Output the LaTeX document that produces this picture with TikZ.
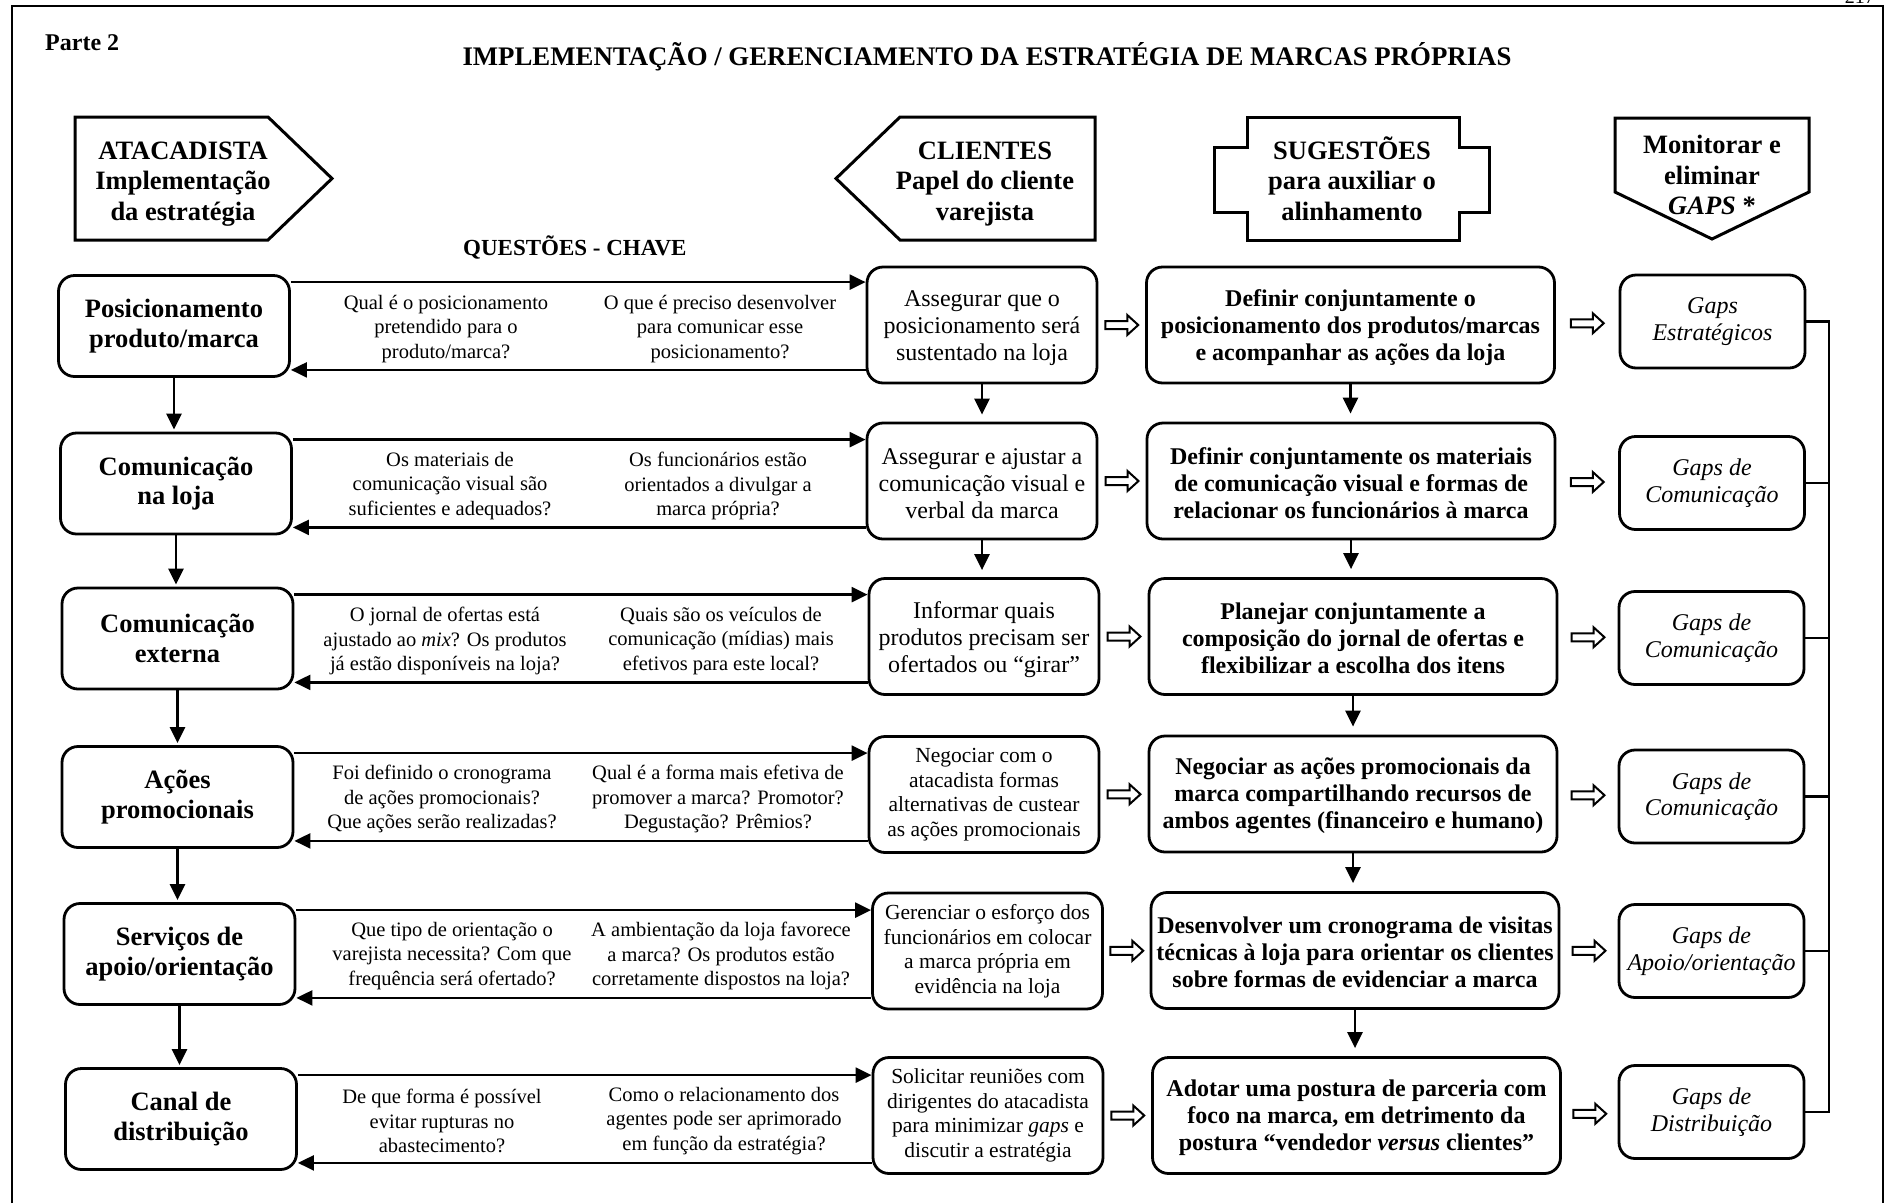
\documentclass[tikz,border=0pt]{standalone}
\usepackage{fontspec}
\setmainfont{Liberation Serif}
\usetikzlibrary{arrows.meta,calc}

\tikzset{
  frameline/.style={line width=2.5pt},
  banner/.style={line width=3pt, line join=miter},
  headtext/.style={align=center, inner sep=0pt, font=\fontsize{26.5}{30.5}\selectfont\bfseries},
  card/.style={draw, line width=2.8pt, rounded corners=16pt, align=center, inner sep=0pt},
  areabox/.style={card, minimum width=231pt, minimum height=101pt, font=\fontsize{26.5}{29.5}\selectfont\bfseries},
  rolebox/.style={card, minimum width=230pt, minimum height=116pt, font=\fontsize{24}{27}\selectfont},
  rolesmall/.style={rolebox, font=\fontsize{21.5}{24.5}\selectfont},
  roletext/.style={align=center, inner sep=0pt, font=\fontsize{24}{27}\selectfont},
  actbox/.style={card, minimum width=408pt, minimum height=116pt},
  acttext/.style={align=center, inner sep=0pt, font=\fontsize{24}{27}\selectfont\bfseries},
  gapbox/.style={card, minimum width=185pt, minimum height=93pt, font=\fontsize{24}{26.5}\selectfont\itshape},
  question/.style={align=center, inner sep=0pt, font=\fontsize{20.5}{24.5}\selectfont},
  flow/.style={line width=2.4pt, -{Triangle[length=16pt, width=15pt]}},
  busline/.style={line width=2.2pt},
  pics/hollowarrow/.style={code={
    \draw[line width=2pt, line join=miter]
      (-16.5,-4) -- (5.5,-4) -- (5.5,-10) -- (16.5,0) -- (5.5,10) -- (5.5,4) -- (-16.5,4) -- cycle;}},
}

\begin{document}
\begin{tikzpicture}[x=1pt, y=-1pt]
\useasboundingbox (0,0) rectangle (1890,1203);

% page frame and page number
\draw[frameline] (12,1203) -- (12,6) -- (1883,6) -- (1883,1203);
\node[anchor=base east, inner sep=0pt, font=\fontsize{20}{24}\selectfont] (pageno) at (1875,3) {217};

% titles
\node[anchor=base west, inner sep=0pt, font=\fontsize{24}{28}\selectfont\bfseries] (parte) at (45,50) {Parte 2};
\node[anchor=base, inner sep=0pt, font=\fontsize{26.8}{30}\selectfont\bfseries] (title) at (987,65)
  {IMPLEMENTAÇÃO / GERENCIAMENTO DA ESTRATÉGIA DE MARCAS PRÓPRIAS};
\node[anchor=base west, inner sep=0pt, font=\fontsize{23}{27}\selectfont\bfseries] (qchave) at (463,255) {QUESTÕES - CHAVE};

% column banners
\draw[banner] (75,117) -- (268,117) -- (332,178.5) -- (268,240) -- (75,240) -- cycle;
\node[headtext] (hAtac) at (183,184) {ATACADISTA\\Implementação\\da estratégia};

\draw[banner] (836,178.5) -- (900,117) -- (1095,117) -- (1095,240) -- (900,240) -- cycle;
\node[headtext] (hCli) at (985,184) {CLIENTES\\Papel do cliente\\varejista};

\draw[banner] (1247,117) -- (1459,117) -- (1459,147) -- (1489,147) -- (1489,212) -- (1459,212)
  -- (1459,240) -- (1247,240) -- (1247,212) -- (1214,212) -- (1214,147) -- (1247,147) -- cycle;
\node[headtext] (hSug) at (1352,178.5) {SUGESTÕES\\para auxiliar o\\alinhamento};

\draw[banner] (1615,118) -- (1809,118) -- (1809,192) -- (1712,239) -- (1615,192) -- cycle;
\node[headtext] (hMon) at (1712,175) {Monitorar e\\eliminar\\\textit{GAPS} *};

% areas of the wholesaler
\node[areabox] (L1) at (174,326)   {Posicionamento\\produto/marca};
\node[areabox] (L2) at (176,483.5) {Comunicação\\na loja};
\node[areabox] (L3) at (177.5,638.5) {Comunicação\\externa};
\node[areabox] (L4) at (177.5,797) {Ações\\promocionais};
\node[areabox] (L5) at (179.5,954) {Serviços de\\apoio/orientação};
\node[areabox] (L6) at (181,1119)  {Canal de\\distribuição};

% role of the retail client
\node[rolebox] (C1) at (982,325)   {};
\node[rolebox] (C2) at (982,481)   {};
\node[rolebox] (C3) at (984,636.5) {};
\node[roletext] (C1t) at ([yshift=-3pt]C1.center) {Assegurar que o\\posicionamento será\\sustentado na loja};
\node[roletext] (C2t) at ([yshift=-3pt]C2.center) {Assegurar e ajustar a\\comunicação visual e\\verbal da marca};
\node[roletext] (C3t) at ([yshift=-3pt]C3.center) {Informar quais\\produtos precisam ser\\ofertados ou “girar”};
\node[rolesmall] (C4) at (984,794.5) {Negociar com o\\atacadista formas\\alternativas de custear\\as ações promocionais};
\node[rolesmall] (C5) at (987.5,951) {Gerenciar o esforço dos\\funcionários em colocar\\a marca própria em\\evidência na loja};
\node[rolesmall] (C6) at (988,1115.5) {Solicitar reuniões com\\dirigentes do atacadista\\para minimizar \textit{gaps} e\\discutir a estratégia};

% suggestions
\node[actbox] (S1) at (1350.5,325)  {};
\node[actbox] (S2) at (1351,481)    {};
\node[actbox] (S3) at (1353,636.5)  {};
\node[actbox] (S4) at (1353,794)    {};
\node[actbox] (S5) at (1355,950.5)  {};
\node[actbox] (S6) at (1356.5,1115.5) {};
\node[acttext] (S1t) at ([yshift=-3pt]S1.center) {Definir conjuntamente o\\posicionamento dos produtos/marcas\\e acompanhar as ações da loja};
\node[acttext] (S2t) at ([yshift=-2pt]S2.center) {Definir conjuntamente os materiais\\de comunicação visual e formas de\\relacionar os funcionários à marca};
\node[acttext] (S3t) at ([yshift=-2pt]S3.center) {Planejar conjuntamente a\\composição do jornal de ofertas e\\flexibilizar a escolha dos itens};
\node[acttext] (S4t) at ([yshift=-2pt]S4.center) {Negociar as ações promocionais da\\marca compartilhando recursos de\\ambos agentes (financeiro e humano)};
\node[acttext] (S5t) at ([yshift=-2pt]S5.center) {Desenvolver um cronograma de visitas\\técnicas à loja para orientar os clientes\\sobre formas de evidenciar a marca};
\node[acttext] (S6t) at ([yshift=-2pt]S6.center) {Adotar uma postura de parceria com\\foco na marca, em detrimento da\\postura “vendedor \textit{versus} clientes”};

% gaps to monitor
\node[gapbox] (G1) at (1712.5,321.5) {Gaps\\Estratégicos};
\node[gapbox] (G2) at (1712,483)     {Gaps de\\Comunicação};
\node[gapbox] (G3) at (1711.5,638)   {Gaps de\\Comunicação};
\node[gapbox] (G4) at (1711.5,796.5) {Gaps de\\Comunicação};
\node[gapbox] (G5) at (1711.5,951)   {Gaps de\\Apoio/orientação};
\node[gapbox] (G6) at (1711.5,1112)  {Gaps de\\Distribuição};

% key questions
\node[question] (Q1a) at (446,329)  {Qual é o posicionamento\\pretendido para o\\produto/marca?};
\node[question] (Q1b) at (720,329)  {O que é preciso desenvolver\\para comunicar esse\\posicionamento?};
\node[question] (Q2a) at (450,486)  {Os materiais de\\comunicação visual são\\suficientes e adequados?};
\node[question] (Q2b) at (718,486)  {Os funcionários estão\\orientados a divulgar a\\marca própria?};
\node[question] (Q3a) at (445,641)  {O jornal de ofertas está\\ajustado ao \textit{mix}? Os produtos\\já estão disponíveis na loja?};
\node[question] (Q3b) at (721,641)  {Quais são os veículos de\\comunicação (mídias) mais\\efetivos para este local?};
\node[question] (Q4a) at (442,799)  {Foi definido o cronograma\\de ações promocionais?\\Que ações serão realizadas?};
\node[question] (Q4b) at (718,799)  {Qual é a forma mais efetiva de\\promover a marca? Promotor?\\Degustação? Prêmios?};
\node[question] (Q5a) at (452,956)  {Que tipo de orientação o\\varejista necessita? Com que\\frequência será ofertado?};
\node[question] (Q5b) at (721,956)  {A ambientação da loja favorece\\a marca? Os produtos estão\\corretamente dispostos na loja?};
\node[question] (Q6a) at (442,1121) {De que forma é possível\\evitar rupturas no\\abastecimento?};
\node[question] (Q6b) at (724,1121) {Como o relacionamento dos\\agentes pode ser aprimorado\\em função da estratégia?};

% two-way links between wholesaler and client, hollow arrows to the right
\foreach \i in {1,...,6} {
  \draw[flow] ([yshift=-8pt]L\i.north east) -- ([yshift=-8pt]L\i.north east -| C\i.west);
  \draw[flow] ([yshift=8pt]L\i.south east -| C\i.west) -- ([yshift=8pt]L\i.south east);
  \pic at ($(C\i.east)!0.5!(S\i.west)$) {hollowarrow};
  \pic at ($(S\i.east)!0.5!(G\i.west)$) {hollowarrow};
}

% downward sequences
\foreach \i/\j in {1/2,2/3,3/4,4/5,5/6} {
  \draw[flow, shorten >=2pt] (L\i.south) -- (L\i.south |- L\j.north);
  \draw[flow, shorten >=8pt] (S\i.south) -- (S\i.south |- S\j.north);
}
\foreach \i/\j in {1/2,2/3}
  \draw[flow, shorten >=7pt] (C\i.south) -- (C\i.south |- C\j.north);

% collector line on the right of the gaps
\coordinate (bus) at (1829,0);
\draw[busline] (G1.east) -- (G1.east -| bus) -- (G6.east -| bus) -- (G6.east);
\foreach \i in {2,...,5}
  \draw[busline] (G\i.east) -- (G\i.east -| bus);
\end{tikzpicture}
\end{document}
